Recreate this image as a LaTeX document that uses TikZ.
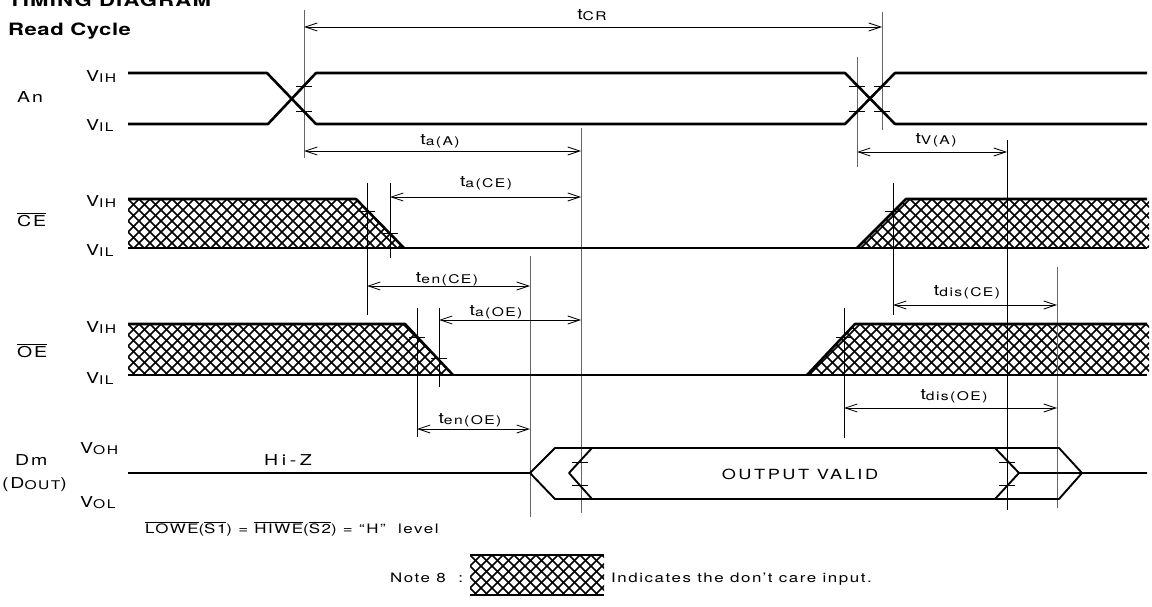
\documentclass[tikz,border=0pt]{standalone}
\usepackage{fontspec}
\setmainfont{TeX Gyre Heros}[FakeStretch=1.3,LetterSpace=12]
\usetikzlibrary{arrows.meta,calc}
\newcommand{\lsub}[1]{\raisebox{-1pt}{\fontsize{12}{13}\selectfont #1}}
\newcommand{\ovl}[1]{$\overline{\mbox{#1}}$}
\newcommand{\xhatch}[4]{%
  \begin{scope}
    \clip #1;
    \foreach \k in {0,...,#4}{
      \draw[hatchline] ($(#2,#3)+(\k*11-66,0)$) -- ++(66,66);
      \draw[hatchline] ($(#2,#3)+(\k*11,0)$) -- ++(-66,66);
    }
  \end{scope}}
\begin{document}
\begin{tikzpicture}[x=1pt,y=-1pt,
  sig/.style={line width=2.6pt,line join=round},
  dsig/.style={line width=1.9pt,line join=round},
  guide/.style={line width=0.8pt},
  faint/.style={line width=0.7pt,black!60},
  tickmark/.style={line width=0.8pt},
  hatchline/.style={line width=1.5pt},
  dim/.style={line width=0.8pt,{Straight Barb[length=12pt,width=8pt]}-{Straight Barb[length=12pt,width=8pt]}},
  lbl/.style={anchor=base,inner sep=0pt,font=\fontsize{15}{17}\selectfont},
  lbll/.style={anchor=base west,inner sep=0pt,font=\fontsize{15}{17}\selectfont},
  note/.style={anchor=base west,inner sep=0pt,font=\fontsize{13}{15}\selectfont},
  ttl/.style={anchor=base west,inner sep=0pt,font=\fontsize{17}{19}\selectfont\bfseries}]
\useasboundingbox (0,0) rectangle (1152,607);
\fill[white] (0,0) rectangle (1152,607);

% titles
\node[ttl] (title) at (8,7) {\addfontfeatures{LetterSpace=7}TIMING DIAGRAM};
\node[ttl] (sub) at (8,36) {\addfontfeatures{LetterSpace=3}Read Cycle};

% row labels
\node[lbll] (an) at (17,103) {An};
\node[lbll] (anvih) at (86,82) {V\lsub{IH}};
\node[lbll] (anvil) at (86,131) {V\lsub{IL}};
\node[lbll] (ce) at (17,226) {\ovl{CE}};
\node[lbll] (cevih) at (86,207) {V\lsub{IH}};
\node[lbll] (cevil) at (86,255) {V\lsub{IL}};
\node[lbll] (oe) at (17,357) {\ovl{OE}};
\node[lbll] (oevih) at (86,332) {V\lsub{IH}};
\node[lbll] (oevil) at (86,383) {V\lsub{IL}};
\node[lbll] (dm) at (15,465) {Dm};
\node[lbll] (dout) at (2,488) {(D\lsub{OUT})};
\node[lbll] (voh) at (80,453) {V\lsub{OH}};
\node[lbll] (vol) at (80,507) {V\lsub{OL}};

% hatched regions
\xhatch{(128,199) -- (356,199) -- (404,248) -- (128,248) -- cycle}{128}{199}{32}
\xhatch{(857,248) -- (906,199) -- (1149,199) -- (1149,248) -- cycle}{800}{199}{38}
\xhatch{(128,324) -- (405,324) -- (453,375) -- (128,375) -- cycle}{128}{324}{36}
\xhatch{(807,375) -- (855,324) -- (1149,324) -- (1149,375) -- cycle}{750}{324}{43}
\xhatch{(470,555) rectangle (604,595)}{470}{555}{19}

% guide lines
\foreach \gx/\gt/\gb in {1007/140/510, 367/183/315, 390/183/258, 893/183/315,
  417/308/437, 439/308/387, 844/308/438}{
  \draw[guide] (\gx,\gt) -- (\gx,\gb);
}
\foreach \gx/\gt/\gb in {304/10/158, 882/12/130, 857/57/167, 581/128/513,
  530/256/517, 1057/267/508}{
  \draw[faint] (\gx,\gt) -- (\gx,\gb);
}
% ticks
\foreach \tx/\ty in {304/86, 304/111, 857/86, 857/111, 882/86, 882/111,
  367/211, 390/233, 893/211, 417/337, 439/358, 844/337,
  580/462, 580/485, 1007/462, 1007/485}{
  \draw[tickmark] (\tx-8,\ty) -- (\tx+8,\ty);
}

% signals
\draw[sig] (128,73) -- (267,73) -- (316,124) -- (845,124) -- (895,73) -- (1147,73);
\draw[sig] (128,124) -- (268,124) -- (316,73) -- (845,73) -- (895,124) -- (1147,124);
\draw[sig] (128,199) -- (356,199) -- (404,248);
\draw[sig] (128,248) -- (1147,248);
\draw[sig] (857,248) -- (906,199) -- (1147,199);
\draw[sig] (128,324) -- (405,324) -- (453,375);
\draw[sig] (128,375) -- (1147,375);
\draw[sig] (807,375) -- (855,324) -- (1147,324);
\draw[dsig] (128,473) -- (530,473) -- (555,448) -- (1059,448) -- (1082,473) -- (1147,473);
\draw[dsig] (530,473) -- (555,499) -- (1059,499) -- (1082,473);
\draw[dsig] (592,448) -- (569,473) -- (592,499);
\draw[dsig] (995,448) -- (1019,473) -- (995,499);
\draw[dsig] (1019,473) -- (1082,473);
\draw[sig] (470,555) -- (604,555);
\draw[sig] (470,595) -- (604,595);

% dimension arrows
\coordinate (tcrL) at (304,27);  \coordinate (tcrR) at (882,27);
\coordinate (taaL) at (304,151); \coordinate (taaR) at (581,151);
\coordinate (tvaL) at (857,152); \coordinate (tvaR) at (1007,152);
\coordinate (taceL) at (390,197); \coordinate (taceR) at (581,197);
\coordinate (tenceL) at (367,286); \coordinate (tenceR) at (530,286);
\coordinate (tdisceL) at (893,305); \coordinate (tdisceR) at (1057,305);
\coordinate (taoeL) at (439,320); \coordinate (taoeR) at (581,320);
\coordinate (tenoeL) at (417,429); \coordinate (tenoeR) at (530,429);
\coordinate (tdisoeL) at (844,408); \coordinate (tdisoeR) at (1057,408);
\draw[dim] (tcrL) -- (tcrR);
\draw[dim] (taaL) -- (taaR);
\draw[dim] (tvaL) -- (tvaR);
\draw[dim] (taceL) -- (taceR);
\draw[dim] (tenceL) -- (tenceR);
\draw[dim] (tdisceL) -- (tdisceR);
\draw[dim] (taoeL) -- (taoeR);
\draw[dim] (tenoeL) -- (tenoeR);
\draw[dim] (tdisoeL) -- (tdisoeR);

% timing labels
\node[lbl] (ltcr) at (592,20) {t\lsub{CR}};
\node[lbl] (ltaa) at (440,145) {t\lsub{a(A)}};
\node[lbl] (ltva) at (936,144) {t\lsub{V(A)}};
\node[lbl] (ltace) at (486,186) {t\lsub{a(CE)}};
\node[lbl] (ltence) at (447,282) {t\lsub{en(CE)}};
\node[lbl] (ltdisce) at (967,295) {t\lsub{dis(CE)}};
\node[lbl] (ltaoe) at (496,315) {t\lsub{a(OE)}};
\node[lbl] (ltenoe) at (470,423) {t\lsub{en(OE)}};
\node[lbl] (ltdisoe) at (954,399) {t\lsub{dis(OE)}};

% data labels
\node[lbll] (hiz) at (264,465) {\addfontfeatures{LetterSpace=24}Hi-Z};
\node[lbl,font=\fontsize{14}{16}\selectfont] (valid) at (800,479) {\addfontfeatures{LetterSpace=18}OUTPUT VALID};

% notes
\node[note] (cond) at (145,533) {\ovl{LOWE}(\ovl{S1}) = \ovl{HIWE}(\ovl{S2}) = ``H''\ \ level};
\node[note] (note8) at (390,582) {Note 8 \ :};
\node[note] (dc) at (611,582) {Indicates the don't care input.};
\end{tikzpicture}
\end{document}
